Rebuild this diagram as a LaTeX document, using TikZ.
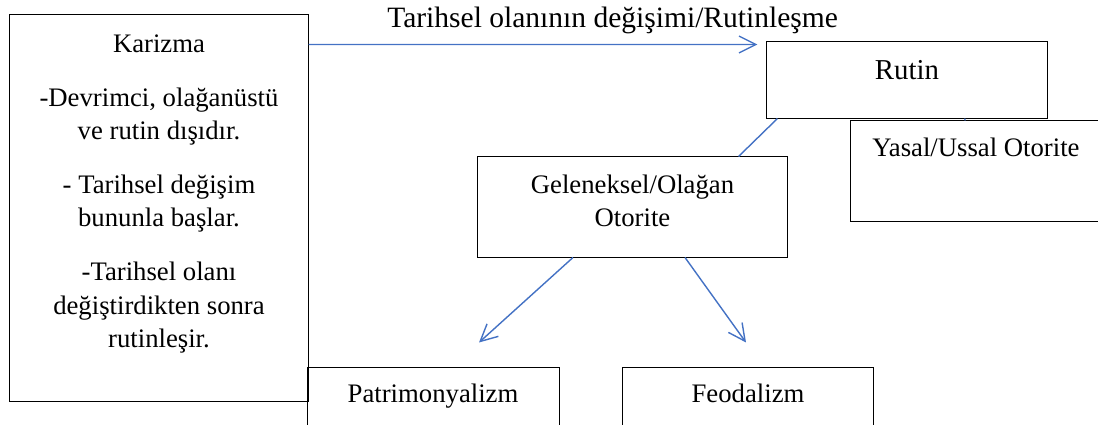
\documentclass[tikz,border=0pt]{standalone}
\usepackage{fontspec}
\setmainfont{Liberation Serif}
\usepackage{tikz}
\usepackage{xcolor}
\usetikzlibrary{arrows.meta}

\definecolor{linkblue}{RGB}{68,114,196}

\begin{document}
\begin{tikzpicture}[x=0.025cm, y=-0.025cm,
    box/.style={draw=black, line width=0.7pt, inner sep=0pt},
    txt/.style={inner sep=0pt, font=\fontsize{19}{23.5}\selectfont},
    link/.style={draw=linkblue, line width=1pt},
    arr/.style={link, -{Straight Barb[length=12pt, width=12pt, line width=1pt]}}]
            \clip (0, 0) rectangle (1098, 425);

            \node[box, minimum width=7.45cm, minimum height=9.65cm] (karizma) at (159, 208) {};
            \node[box, minimum width=7cm, minimum height=1.9cm] (rutin) at (907, 80) {};
            \node[box, minimum width=6.475cm, minimum height=2.5cm] (yasal) at (980.5, 171) {};
            \node[box, minimum width=7.725cm, minimum height=2.5cm] (gelen) at (632.5, 207) {};
            \node[box, minimum width=6.275cm, minimum height=2.55cm] (patri) at (433.5, 419) {};
            \node[box, minimum width=6.25cm, minimum height=2.55cm] (feod) at (748, 419) {};

            \node[txt, anchor=north, align=center] (karizmaText) at (159, 34.5)
                {Karizma\\[15pt]-Devrimci, olağanüstü\\ve rutin dışıdır.\\[15pt]- Tarihsel değişim\\bununla başlar.\\[15pt]-Tarihsel olanı\\değiştirdikten sonra\\rutinleşir.};
            \node[txt, anchor=base west, font=\fontsize{21}{25}\selectfont] (title) at (387, 28) {Tarihsel olanının değişimi/Rutinleşme};
            \node[txt, anchor=base, font=\fontsize{20.5}{25}\selectfont] (rutinText) at (907, 80) {Rutin};
            \node[txt, anchor=base west] (yasalText) at (872, 157) {Yasal/Ussal Otorite};
            \node[txt, anchor=north, align=center] (gelenText) at (632.5, 174.5) {Geleneksel/Olağan\\Otorite};
            \node[txt, anchor=base] (patriText) at (433, 403) {Patrimonyalizm};
            \node[txt, anchor=base] (feodText) at (748, 403) {Feodalizm};

            \draw[arr] ([yshift=-0.75cm]karizma.north east) -- ([xshift=-0.225cm, yshift=-0.075cm]rutin.north west);
            \draw[link] ([xshift=0.275cm]rutin.south west) -- ([xshift=-1.225cm]gelen.north east);
            \draw[link] ([xshift=1.45cm]rutin.south) -- ([xshift=-0.39cm]yasal.north);
            \draw[arr] ([xshift=-1.4875cm]gelen.south) -- ([xshift=1.1375cm, yshift=0.625cm]patri.north);
            \draw[arr] ([xshift=1.3125cm]gelen.south) -- ([xshift=-0.05cm, yshift=0.625cm]feod.north);
        \end{tikzpicture}
\end{document}
